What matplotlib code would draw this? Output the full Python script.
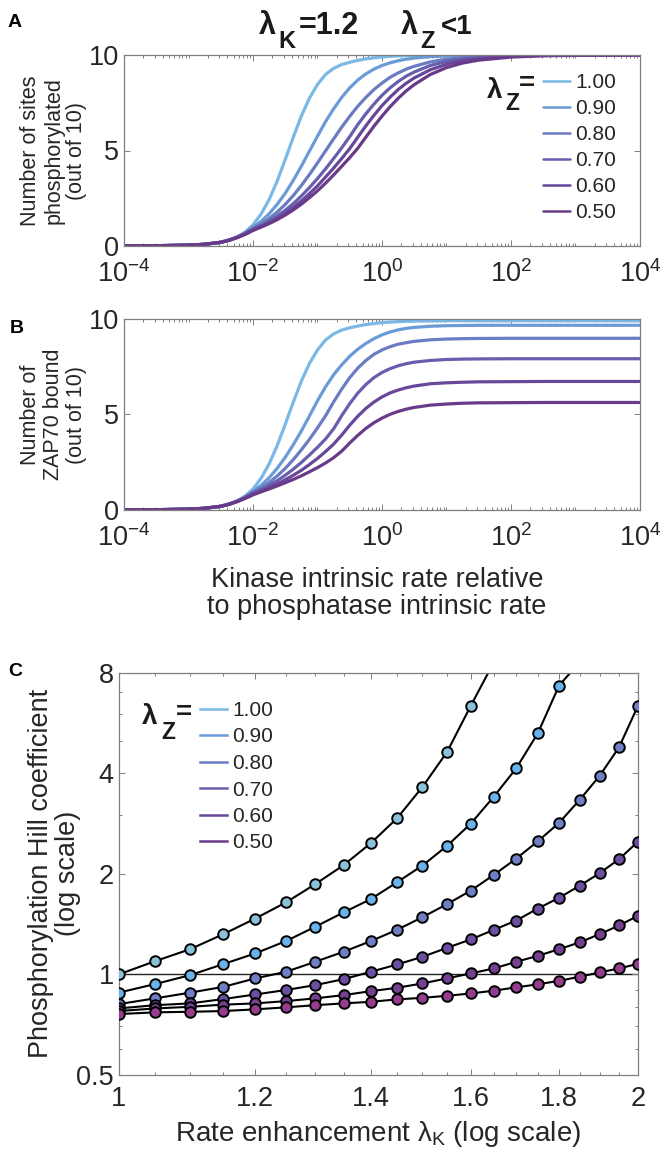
import numpy as np
import matplotlib
matplotlib.use("Agg")
import matplotlib.pyplot as plt
from matplotlib.ticker import FixedLocator, NullFormatter, FuncFormatter, LogLocator

plt.rcParams['font.family'] = ['Liberation Sans', 'DejaVu Sans']
plt.rcParams['mathtext.fontset'] = 'custom'
plt.rcParams['mathtext.rm'] = 'Liberation Sans'
plt.rcParams['mathtext.it'] = 'Liberation Sans:italic'
plt.rcParams['mathtext.bf'] = 'Liberation Sans:bold'

# ---------------- data ----------------
lamZ_labels = ['1.00', '0.90', '0.80', '0.70', '0.60', '0.50']
line_colors = ['#7ab8e6', '#6b9bd6', '#6a7cc2', '#675fae', '#66479a', '#6a3a8a']
marker_colors = ['#88c1d8', '#69b3ea', '#6f7fc6', '#6c4fa2', '#75408f', '#963c8c']

# log10 of kinase / phosphatase intrinsic rate (panels A, B)
log_rate = [-4, -3.5, -3, -2.75, -2.5, -2.375, -2.25, -2.125, -2, -1.875, -1.75, -1.625,
            -1.5, -1.375, -1.25, -1.125, -1, -0.875, -0.75, -0.625, -0.5, -0.375, -0.25,
            -0.125, 0, 0.125, 0.25, 0.375, 0.5, 0.75, 1, 1.25, 1.5, 2, 2.5, 3, 4]

phos_100 = [0.005, 0.015, 0.045, 0.09, 0.18, 0.29, 0.46, 0.72, 1.11, 1.67, 2.43, 3.40, 4.53, 5.70, 6.81, 7.74,
            8.46, 8.98, 9.30, 9.50, 9.62, 9.72, 9.80, 9.85, 9.90, 9.93, 9.95, 9.97, 9.98, 9.99, 10, 10, 10, 10, 10, 10, 10]
phos_090 = [0.005, 0.015, 0.045, 0.09, 0.2, 0.31, 0.47, 0.69, 0.98, 1.29, 1.69, 2.18, 2.76, 3.44, 4.18, 4.97,
            5.75, 6.51, 7.18, 7.78, 8.28, 8.69, 9.01, 9.26, 9.45, 9.59, 9.70, 9.78, 9.84, 9.91, 9.95, 9.97, 9.985, 9.995, 10, 10, 10]
phos_080 = [0.005, 0.015, 0.045, 0.09, 0.2, 0.31, 0.46, 0.67, 0.93, 1.155, 1.44, 1.78, 2.18, 2.64, 3.17, 3.74,
            4.35, 4.98, 5.61, 6.22, 6.79, 7.32, 7.78, 8.19, 8.53, 8.83, 9.06, 9.26, 9.41, 9.64, 9.78, 9.87, 9.92, 9.97, 9.99, 10, 10]
phos_070 = [0.005, 0.015, 0.045, 0.09, 0.2, 0.31, 0.45, 0.64, 0.885, 1.075, 1.30, 1.57, 1.87, 2.22, 2.62, 3.06,
            3.53, 4.04, 4.58, 5.14, 5.73, 6.36, 6.92, 7.43, 7.89, 8.28, 8.61, 8.89, 9.11, 9.45, 9.66, 9.79, 9.87, 9.95, 9.98, 9.99, 10]
phos_060 = [0.005, 0.015, 0.045, 0.09, 0.19, 0.30, 0.44, 0.62, 0.843, 1.012, 1.21, 1.44, 1.71, 2.01, 2.36, 2.74,
            3.15, 3.61, 4.08, 4.58, 5.10, 5.70, 6.29, 6.84, 7.35, 7.79, 8.19, 8.52, 8.80, 9.23, 9.51, 9.70, 9.81, 9.93, 9.97, 9.99, 10]
phos_050 = [0.005, 0.015, 0.045, 0.09, 0.19, 0.29, 0.43, 0.6, 0.81, 0.99, 1.17, 1.38, 1.62, 1.89, 2.19, 2.53,
            2.89, 3.29, 3.72, 4.17, 4.63, 5.12, 5.70, 6.27, 6.80, 7.29, 7.73, 8.12, 8.45, 8.98, 9.34, 9.58, 9.73, 9.89, 9.96, 9.98, 10]

zap_100 = [0.005, 0.015, 0.045, 0.09, 0.18, 0.29, 0.46, 0.72, 1.1, 1.66, 2.41, 3.37, 4.49, 5.65, 6.75, 7.67,
           8.38, 8.9, 9.22, 9.42, 9.54, 9.63, 9.71, 9.76, 9.81, 9.84, 9.86, 9.88, 9.89, 9.9, 9.91, 9.91, 9.91, 9.91, 9.91, 9.91, 9.91]
zap_090 = [0.005, 0.015, 0.045, 0.09, 0.2, 0.31, 0.47, 0.69, 0.98, 1.29, 1.69, 2.18, 2.76, 3.42, 4.14, 4.92,
           5.72, 6.45, 7.08, 7.6, 8.05, 8.42, 8.72, 8.97, 9.17, 9.32, 9.43, 9.51, 9.56, 9.62, 9.65, 9.66, 9.67, 9.67, 9.67, 9.67, 9.67]
zap_080 = [0.005, 0.015, 0.045, 0.09, 0.2, 0.31, 0.46, 0.67, 0.93, 1.155, 1.44, 1.78, 2.18, 2.64, 3.15, 3.7,
           4.3, 4.93, 5.66, 6.33, 6.93, 7.43, 7.83, 8.15, 8.38, 8.55, 8.68, 8.76, 8.83, 8.91, 8.95, 8.97, 8.98, 8.99, 8.99, 8.99, 8.99]
zap_070 = [0.005, 0.015, 0.045, 0.09, 0.2, 0.31, 0.45, 0.64, 0.885, 1.07, 1.29, 1.53, 1.82, 2.14, 2.49, 2.88,
           3.28, 3.72, 4.25, 4.94, 5.57, 6.12, 6.57, 6.93, 7.2, 7.4, 7.55, 7.66, 7.74, 7.83, 7.88, 7.9, 7.91, 7.92, 7.92, 7.92, 7.92]
zap_060 = [0.005, 0.015, 0.045, 0.09, 0.19, 0.30, 0.44, 0.62, 0.83, 0.99, 1.17, 1.36, 1.58, 1.82, 2.08, 2.38,
           2.70, 3.06, 3.45, 3.92, 4.44, 4.91, 5.32, 5.65, 5.92, 6.13, 6.28, 6.40, 6.49, 6.61, 6.66, 6.69, 6.71, 6.72, 6.73, 6.73, 6.73]
zap_050 = [0.005, 0.015, 0.045, 0.09, 0.19, 0.29, 0.43, 0.6, 0.79, 0.95, 1.1, 1.26, 1.43, 1.6, 1.79, 2.0,
           2.22, 2.46, 2.74, 3.08, 3.51, 3.91, 4.27, 4.57, 4.81, 5.01, 5.16, 5.28, 5.37, 5.49, 5.55, 5.59, 5.61, 5.62, 5.63, 5.63, 5.63]

# panel C: rate enhancement lambda_K and phosphorylation Hill coefficients
lamK = [1.00, 1.05, 1.10, 1.15, 1.20, 1.25, 1.30, 1.35, 1.40, 1.45, 1.50,
        1.55, 1.60, 1.65, 1.70, 1.75, 1.80, 1.85, 1.90, 1.95, 2.00]
hill_100 = [1.00, 1.096, 1.19, 1.32, 1.47, 1.642, 1.863, 2.123, 2.47, 2.934, 3.641, 4.633, 6.374, 8.6]
hill_090 = [0.882, 0.936, 0.995, 1.074, 1.156, 1.258, 1.389, 1.533, 1.68, 1.888, 2.118, 2.425, 2.828, 3.406, 4.14, 5.28, 7.32, 8.6]
hill_080 = [0.815, 0.848, 0.882, 0.918, 0.973, 1.018, 1.091, 1.169, 1.258, 1.36, 1.484, 1.623, 1.782, 1.986, 2.222, 2.505, 2.842, 3.329, 3.928, 4.784, 6.374]
hill_070 = [0.791, 0.809, 0.819, 0.844, 0.871, 0.898, 0.929, 0.968, 1.018, 1.071, 1.129, 1.201, 1.273, 1.36, 1.45, 1.575, 1.696, 1.842, 2.009, 2.213, 2.498]
hill_060 = [0.777, 0.791, 0.80, 0.812, 0.819, 0.832, 0.848, 0.867, 0.891, 0.912, 0.94, 0.973, 1.007, 1.042, 1.091, 1.137, 1.19, 1.247, 1.32, 1.401, 1.498]
hill_050 = [0.761, 0.770, 0.773, 0.777, 0.786, 0.797, 0.809, 0.819, 0.828, 0.842, 0.851, 0.863, 0.877, 0.894, 0.915, 0.934, 0.957, 0.984, 1.014, 1.042, 1.076]
hill_markers = [13, 17, 21, 21, 21, 21]   # marked points that fall inside the axes

phos = [phos_100, phos_090, phos_080, phos_070, phos_060, phos_050]
zap = [zap_100, zap_090, zap_080, zap_070, zap_060, zap_050]
hill = [hill_100, hill_090, hill_080, hill_070, hill_060, hill_050]

# ---------------- figure ----------------
W, H = 661, 1166
fig = plt.figure(figsize=(W / 100, H / 100), dpi=100)

def axrect(l, t, r, b):
    return [l / W, 1 - b / H, (r - l) / W, (b - t) / H]

def fx(x):
    return x / W

def fy(y):
    return 1 - y / H

spine_col = '#7f7f7f'
txt_col = '#262626'
bold_col = '#1a1a1a'

def style_axes(ax):
    for s in ax.spines.values():
        s.set_color(spine_col)
        s.set_linewidth(0.9)
    ax.tick_params(which='both', direction='in', top=True, right=True,
                   color=spine_col, labelcolor=txt_col, labelsize=19.5, width=0.7)
    ax.tick_params(which='major', length=4)
    ax.tick_params(which='minor', length=2.5)

def pow_fmt(v, pos):
    e = int(round(np.log10(v)))
    return r'$10^{%d}$' % e

def lam_label(x_l, base_y, sub, tail, size, subsize, sub_dx, sub_dy, tail_dx, tail_dy, tailsize=None):
    fig.text(fx(x_l), fy(base_y), 'λ', fontsize=size, fontweight='bold', color=bold_col, va='baseline')
    fig.text(fx(x_l + sub_dx), fy(base_y + sub_dy), sub, fontsize=subsize, fontweight='bold',
             color=bold_col, va='baseline')
    fig.text(fx(x_l + tail_dx), fy(base_y + tail_dy), tail, fontsize=tailsize or size,
             fontweight='bold', color=bold_col, va='baseline')

xs = np.power(10.0, log_rate)
axA = fig.add_axes(axrect(124, 55, 640, 246))
axB = fig.add_axes(axrect(124, 319, 640, 510))
for ax, data in ((axA, phos), (axB, zap)):
    for y, c, lab in zip(data, line_colors, lamZ_labels):
        ax.plot(xs, y, color=c, lw=2.3, label=lab, solid_capstyle='round')
    ax.set_xscale('log')
    ax.set_xlim(1e-4, 1e4)
    ax.set_ylim(0, 10)
    ax.set_yticks([0, 5, 10])
    ax.xaxis.set_major_locator(FixedLocator([1e-4, 1e-2, 1e0, 1e2, 1e4]))
    ax.xaxis.set_major_formatter(FuncFormatter(pow_fmt))
    ax.xaxis.set_minor_locator(LogLocator(base=10, subs=np.arange(1, 10), numticks=40))
    ax.xaxis.set_minor_formatter(NullFormatter())
    style_axes(ax)
    ax.tick_params(axis='x', which='major', pad=10)

axA.set_ylabel('Number of sites\nphosphorylated\n(out of 10)', fontsize=15.5,
               color=txt_col, linespacing=1.12)
axA.yaxis.set_label_coords((87 - 124) / 516, 0.5)
axB.set_ylabel('Number of\nZAP70 bound\n(out of 10)', fontsize=15.5,
               color=txt_col, linespacing=1.12)
axB.yaxis.set_label_coords((87 - 124) / 516, 0.5)
axB.set_xlabel('Kinase intrinsic rate relative\nto phosphatase intrinsic rate',
               fontsize=19.5, color=txt_col, linespacing=1.05)
axB.xaxis.set_label_coords(0.49, (510 - 567) / 191)

legA = axA.legend(loc='upper left', bbox_to_anchor=((543 - 124) / 516, 1 - (73 - 55) / 191),
                  frameon=False, fontsize=15, handlelength=1.3, handletextpad=0.25,
                  labelspacing=0.34, borderpad=0, borderaxespad=0)
for t in legA.get_texts():
    t.set_color(txt_col)
for h in legA.legend_handles:
    h.set_linewidth(1.8)
lam_label(487, 98, 'Z', '=', 20, 16.5, 18, 12, 32, -7)

# title
lam_label(259, 34, 'K', '=1.2', 22, 17, 19, 14, 40, 0)
lam_label(401, 34, 'Z', '<1', 22, 17, 19, 14, 40, 0, tailsize=20)

# panel letters
fig.text(fx(8), fy(27), 'A', fontsize=14, fontweight='bold', va='baseline')
fig.text(fx(10), fy(333), 'B', fontsize=14, fontweight='bold', va='baseline')
fig.text(fx(8), fy(676), 'C', fontsize=14, fontweight='bold', va='baseline')

# ---------------- panel C ----------------
axC = fig.add_axes(axrect(118.7, 672.7, 638, 1075))
axC.axhline(1.0, color='#222222', lw=1.0, zorder=1)
for y, c, mc, lab, n in zip(hill, line_colors, marker_colors, lamZ_labels, hill_markers):
    xk = lamK[:len(y)]
    axC.plot(xk, y, color='black', lw=1.5, zorder=2)
    axC.plot(xk[:n], y[:n], ls='none', marker='o', ms=7.6, mfc=mc, mec='black',
             mew=1.4, zorder=3)
    axC.plot([], [], color=c, lw=1.8, label=lab)
axC.set_xscale('log')
axC.set_yscale('log')
axC.set_xlim(1, 2)
axC.set_ylim(0.5, 8)
axC.xaxis.set_major_locator(FixedLocator([1, 1.2, 1.4, 1.6, 1.8, 2]))
axC.xaxis.set_major_formatter(FuncFormatter(lambda v, p: ('%g' % v)))
axC.xaxis.set_minor_locator(FixedLocator(lamK))
axC.xaxis.set_minor_formatter(NullFormatter())
axC.yaxis.set_major_locator(FixedLocator([0.5, 1, 2, 4, 8]))
axC.yaxis.set_major_formatter(FuncFormatter(lambda v, p: ('%g' % v)))
axC.yaxis.set_minor_locator(FixedLocator([0.6, 0.7, 0.8, 0.9, 3, 5, 6, 7]))
axC.yaxis.set_minor_formatter(NullFormatter())
style_axes(axC)
axC.tick_params(axis='x', which='major', pad=8)
axC.set_ylabel('Phosphorylation Hill coefficient\n(log scale)', fontsize=19.5,
               color=txt_col, linespacing=1.05)
axC.yaxis.set_label_coords((81 - 118.7) / 519.3, 0.5)
axC.set_xlabel('Rate enhancement λ$_\\mathregular{K}$ (log scale)', fontsize=20,
               color=txt_col, labelpad=5)

legC = axC.legend(loc='upper left', bbox_to_anchor=((200 - 118.7) / 519.3, 1 - (701 - 672.7) / 402.3),
                  frameon=False, fontsize=15, handlelength=1.3, handletextpad=0.25,
                  labelspacing=0.36, borderpad=0, borderaxespad=0)
for t in legC.get_texts():
    t.set_color(txt_col)
lam_label(142, 724, 'Z', '=', 20, 16.5, 19, 15, 34, -4)

fig.savefig('out.png', dpi=100)
